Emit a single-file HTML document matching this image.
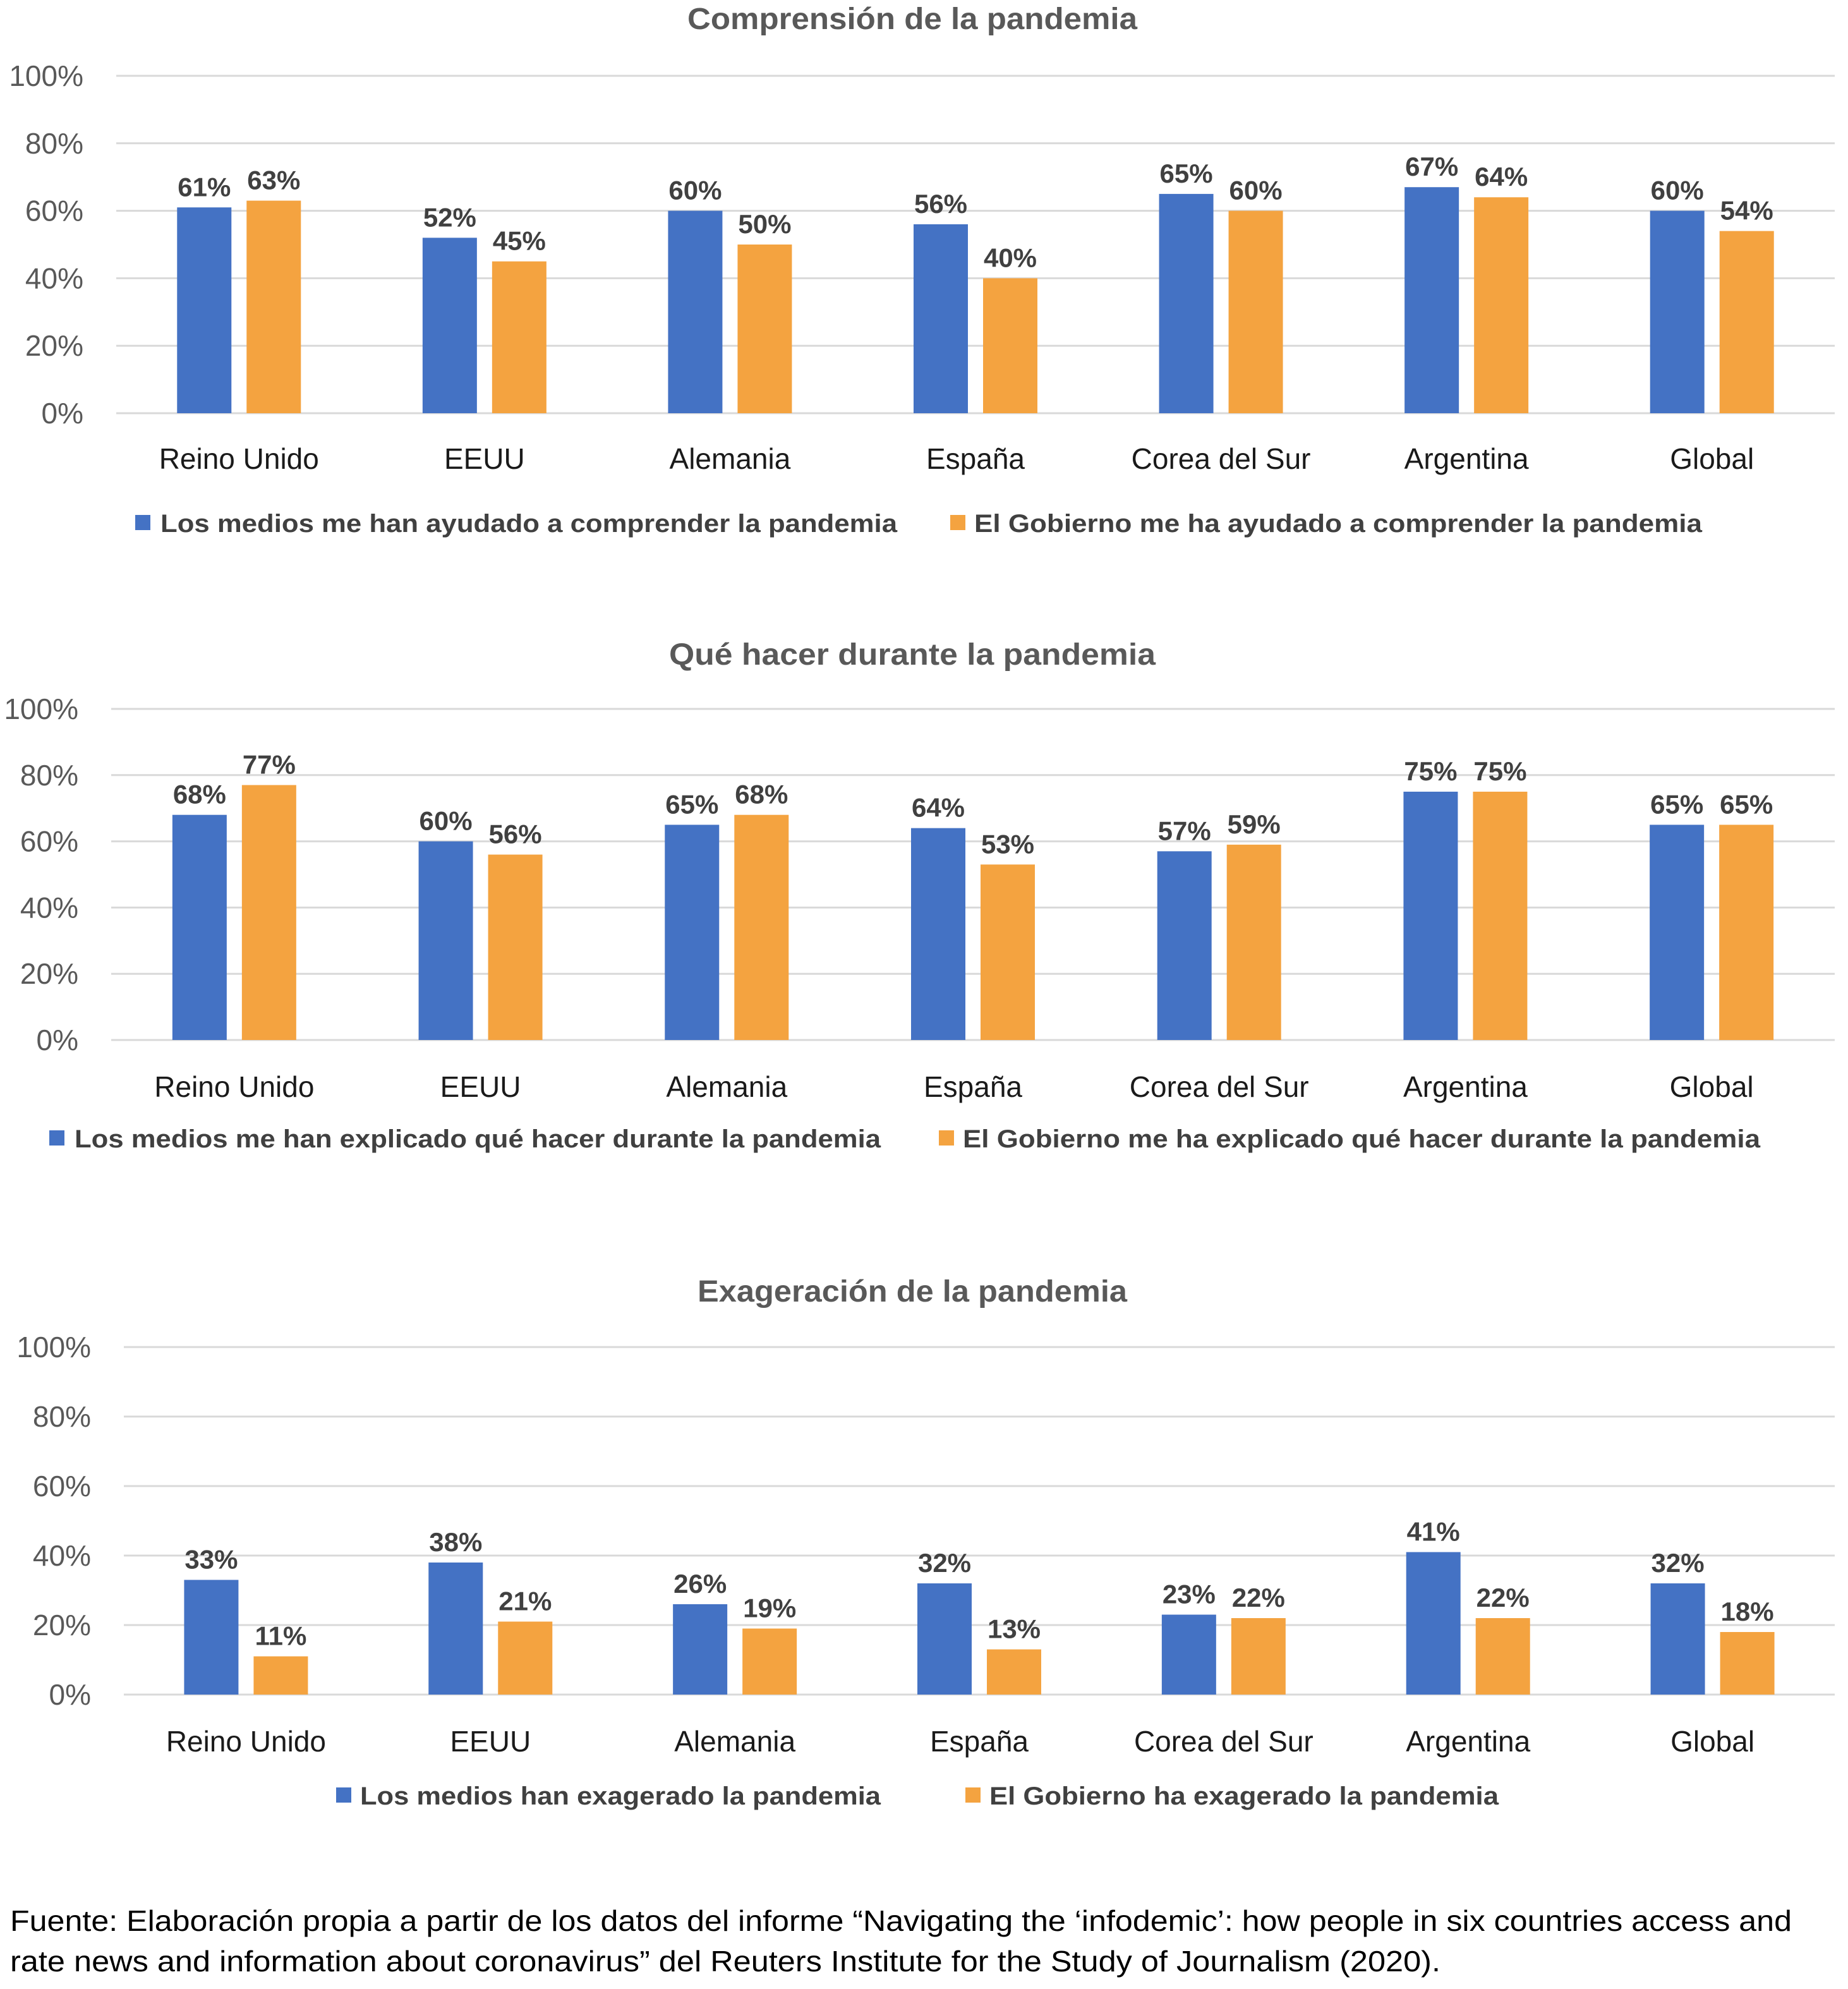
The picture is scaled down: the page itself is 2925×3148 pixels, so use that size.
<!DOCTYPE html>
<html><head><meta charset="utf-8"><style>
html,body{margin:0;padding:0;background:#fff;}
svg{display:block;font-family:"Liberation Sans",sans-serif;}
</style></head><body>
<svg id="s" width="2925" height="3148" viewBox="0 0 2925 3148" xmlns="http://www.w3.org/2000/svg">
<rect width="2925" height="3148" fill="#fff"/>
<text x="16" y="3056" font-size="46" fill="#000" textLength="2820" lengthAdjust="spacingAndGlyphs">Fuente: Elaboración propia a partir de los datos del informe “Navigating the ‘infodemic’: how people in six countries access and</text>
<text x="16" y="3120" font-size="46" fill="#000" textLength="2264" lengthAdjust="spacingAndGlyphs">rate news and information about coronavirus” del Reuters Institute for the Study of Journalism (2020).</text>
</svg>
<script>
const categories = ["Reino Unido","EEUU","Alemania","España","Corea del Sur","Argentina","Global"];
const ticks = [0,20,40,60,80,100];
const medios1 = [61,52,60,56,65,67,60];
const gob1 = [63,45,50,40,60,64,54];
const medios2 = [68,60,65,64,57,75,65];
const gob2 = [77,56,68,53,59,75,65];
const medios3 = [33,38,26,32,23,41,32];
const gob3 = [11,21,19,13,22,22,18];
const titles = ["Comprensión de la pandemia","Qué hacer durante la pandemia","Exageración de la pandemia"];
const legendA = ["Los medios me han ayudado a comprender la pandemia","Los medios me han explicado qué hacer durante la pandemia","Los medios han exagerado la pandemia"];
const legendB = ["El Gobierno me ha ayudado a comprender la pandemia","El Gobierno me ha explicado qué hacer durante la pandemia","El Gobierno ha exagerado la pandemia"];

const layouts = [
 {titleY:46,titleW:712,top:120,bottom:654,left:184,right:2904,tickX:132,labY:742,legY:842,
  la:[214,254,1166],lb:[1504,1542,1152]},
 {titleY:1052,titleW:770,top:1122,bottom:1646,left:176,right:2904,tickX:124,labY:1736,legY:1816,
  la:[78,118,1276],lb:[1486,1524,1262]},
 {titleY:2060,titleW:680,top:2132,bottom:2682,left:196,right:2904,tickX:144,labY:2772,legY:2856,
  la:[532,570,824],lb:[1528,1566,806]}
];
const seriesA=[medios1,medios2,medios3], seriesB=[gob1,gob2,gob3];
const svg=document.getElementById('s');
const NS='http://www.w3.org/2000/svg';
function mk(tag,attrs,parent){const e=document.createElementNS(NS,tag);for(const k in attrs)e.setAttribute(k,attrs[k]);(parent||svg).appendChild(e);return e;}
const BLUE='#4472c4', ORANGE='#f4a340';
layouts.forEach((L,ci)=>{
  const g=mk('g',{});
  
  
  const y=v=>L.bottom-(L.bottom-L.top)*v/100;
  const bw=(L.right-L.left)/categories.length;
  const cx=i=>L.left+bw*(i+0.5);
  const t=mk('text',{x:1444,y:L.titleY,'text-anchor':'middle','font-size':48,'font-weight':'bold',fill:'#595959',textLength:L.titleW,lengthAdjust:'spacingAndGlyphs'},g);
  t.textContent=titles[ci];
  
  
  ticks.forEach(v=>{
    const ln=mk('line',{x1:L.left,x2:L.right,y1:y(v),y2:y(v),stroke:'#d9d9d9','stroke-width':3},g);
    
    
    const tl=mk('text',{x:L.tickX,y:y(v)+16,'text-anchor':'end','font-size':46,fill:'#595959'},g);
    tl.textContent=v+'%';
    
    
  });
  categories.forEach((c,i)=>{
    [[seriesA[ci][i],-55,BLUE],[seriesB[ci][i],55,ORANGE]].forEach(([v,off,col],k)=>{
      const bx=cx(i)+off-43;
      const r=mk('rect',{x:bx,y:y(v),width:86,height:L.bottom-y(v),fill:col},g);
      
      
      const vl=mk('text',{x:cx(i)+off,y:y(v)-18,'text-anchor':'middle','font-size':42,'font-weight':'bold',fill:'#404040'},g);
      vl.textContent=v+'%';
      
      
    });
    const cl=mk('text',{x:cx(i),y:L.labY,'text-anchor':'middle','font-size':46,fill:'#1a1a1a'},g);
    cl.textContent=c;
    
    
  });
  [[L.la,BLUE,legendA[ci]],[L.lb,ORANGE,legendB[ci]]].forEach(([p,col,txt],k)=>{
    const sq=mk('rect',{x:p[0],y:L.legY-27,width:24,height:24,fill:col},g);
    
    
    const lt=mk('text',{x:p[1],y:L.legY,'font-size':40,'font-weight':'bold',fill:'#404040',textLength:p[2],lengthAdjust:'spacingAndGlyphs'},g);
    lt.textContent=txt;
    
    
  });
});
</script>
</body></html>
